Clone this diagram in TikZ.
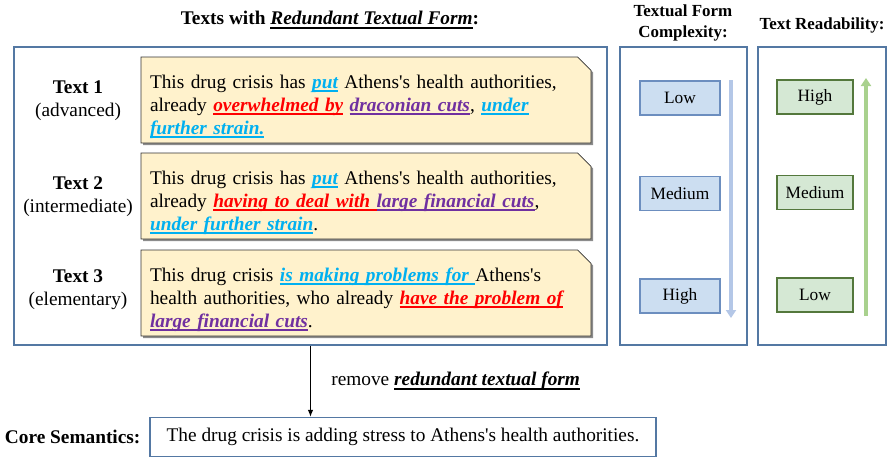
\documentclass[tikz,border=0pt]{standalone}
\usepackage{fontspec}
\setmainfont{Liberation Serif}
\usepackage{xcolor}
\usetikzlibrary{arrows.meta,positioning,shapes.misc,shadows}
\definecolor{FrameBlue}{RGB}{84,120,163}
\definecolor{NoteYellow}{RGB}{255,242,204}
\definecolor{FormCyan}{RGB}{0,176,240}
\definecolor{FormRed}{RGB}{255,0,0}
\definecolor{FormPurple}{RGB}{112,48,160}
\definecolor{LevelBlueFill}{RGB}{204,222,241}
\definecolor{LevelBlueLine}{RGB}{108,142,191}
\definecolor{LevelGreenFill}{RGB}{213,232,212}
\definecolor{LevelGreenLine}{RGB}{84,120,60}
\definecolor{ArrowBlue}{RGB}{180,199,231}
\definecolor{ArrowGreen}{RGB}{169,209,142}
\newcommand{\bodysize}{\fontsize{14.5}{17.25}\selectfont}
\newcommand{\ulbox}[1]{\leavevmode{\setbox0\hbox{#1}\rlap{\rule[-3.2pt]{\wd0}{1.5pt}}\box0}}
\newcommand{\fm}[2]{\leavevmode{\color{#1}\bfseries\itshape\ulbox{#2}}}
\newcommand{\apos}{\textquotesingle}
\newcommand{\toppad}{\leavevmode\rule{0pt}{20pt}}

\begin{document}
\begin{tikzpicture}[x=0.75pt,y=-0.75pt,
    frame/.style={draw=FrameBlue, line width=1.3pt, inner sep=0pt},
    notebox/.style={chamfered rectangle, chamfered rectangle corners=north east,
      chamfered rectangle xsep=5pt, chamfered rectangle ysep=5pt,
      draw=black!80, line width=0.6pt, fill=NoteYellow,
      drop shadow={shadow xshift=1.5pt, shadow yshift=-1.5pt, fill=black!45, opacity=1},
      minimum width=337.5pt, minimum height=64.5pt, text width=324pt, align=left,
      inner xsep=0pt, inner ysep=-3pt, font=\bodysize},
    levelblue/.style={draw=LevelBlueLine, line width=0.8pt, fill=LevelBlueFill,
      minimum width=60pt, minimum height=25.5pt, font=\fontsize{13}{15}\selectfont},
    levelgreen/.style={draw=LevelGreenLine, line width=0.8pt, fill=LevelGreenFill,
      minimum width=57pt, minimum height=25.5pt, font=\fontsize{13}{15}\selectfont},
    textlabel/.style={align=center, font=\bodysize}]
  \useasboundingbox (0,0) rectangle (891,458);

  % titles
  \node[font=\bodysize\bfseries] (title) at (330,20) {Texts with \ulbox{\itshape Redundant Textual Form}:};
  \node[font=\fontsize{12.7}{15.75}\selectfont\bfseries, align=center] (titlecx) at (683,23) {Textual Form\\Complexity:};
  \node[font=\fontsize{12.7}{15.75}\selectfont\bfseries] (titlerd) at (822,25) {Text Readability:};

  % frames
  \node[frame, minimum width=444.75pt, minimum height=223.5pt] (texts) at (310.5,196) {};
  \node[frame, minimum width=95.25pt, minimum height=223.5pt] (cxframe) at (683.5,196) {};
  \node[frame, minimum width=96pt, minimum height=223.5pt] (rdframe) at (822,196) {};

  % texts
  \node[textlabel] (label1) at (78,100.5) {\textbf{Text 1}\\(advanced)};
  \node[textlabel] (label2) at (78,197) {\textbf{Text 2}\\(intermediate)};
  \node[textlabel] (label3) at (78,289.5) {\textbf{Text 3}\\(elementary)};

  \node[notebox] (note1) at (366,100) {\toppad This drug crisis has \fm{FormCyan}{put} Athens\apos s health authorities,\\
    already \fm{FormRed}{overwhelmed by} \fm{FormPurple}{draconian cuts}, \fm{FormCyan}{under}\\
    \fm{FormCyan}{further strain.}};
  \node[notebox] (note2) at (366,196) {\toppad This drug crisis has \fm{FormCyan}{put} Athens\apos s health authorities,\\
    already \fm{FormRed}{having to deal with }\fm{FormPurple}{large financial cuts},\\
    \fm{FormCyan}{under further strain}.};
  \node[notebox] (note3) at (366,293) {\toppad This drug crisis \fm{FormCyan}{is making problems for }Athens\apos s\\
    health authorities, who already \fm{FormRed}{have the problem of}\\
    \fm{FormPurple}{large financial cuts}.};

  % complexity levels
  \node[levelblue] (cxlow) at (680,98) {Low};
  \node[levelblue] (cxmed) at (680,193.5) {Medium};
  \node[levelblue] (cxhigh) at (680,296) {High};
  \coordinate (cxtop) at (731,80);
  \coordinate (cxbot) at (731,318);
  \draw[ArrowBlue, line width=2.5pt, -{Triangle[width=7.5pt,length=6pt]}] (cxtop) -- (cxbot);

  % readability levels
  \node[levelgreen] (rdhigh) at (815,97) {High};
  \node[levelgreen] (rdmed) at (815,192.5) {Medium};
  \node[levelgreen] (rdlow) at (815,295) {Low};
  \coordinate (rdbot) at (866,316);
  \coordinate (rdtop) at (866,78);
  \draw[ArrowGreen, line width=2.5pt, -{Triangle[width=7.5pt,length=6pt]}] (rdbot) -- (rdtop);

  % core semantics
  \node[frame, minimum width=379.5pt, minimum height=29.25pt, font=\bodysize] (core) at (403,437)
    {The drug crisis is adding stress to Athens\apos s health authorities.};
  \node[font=\bodysize\bfseries, left=3pt of core] (corelabel) {Core Semantics:};
  \draw[-{Latex[length=5pt,width=4pt]}, line width=0.6pt] (texts.south) -- (texts.south |- core.north)
    node[midway, right=12pt, font=\bodysize] (remove) {remove \ulbox{\bfseries\itshape redundant textual form}};
\end{tikzpicture}
\end{document}
